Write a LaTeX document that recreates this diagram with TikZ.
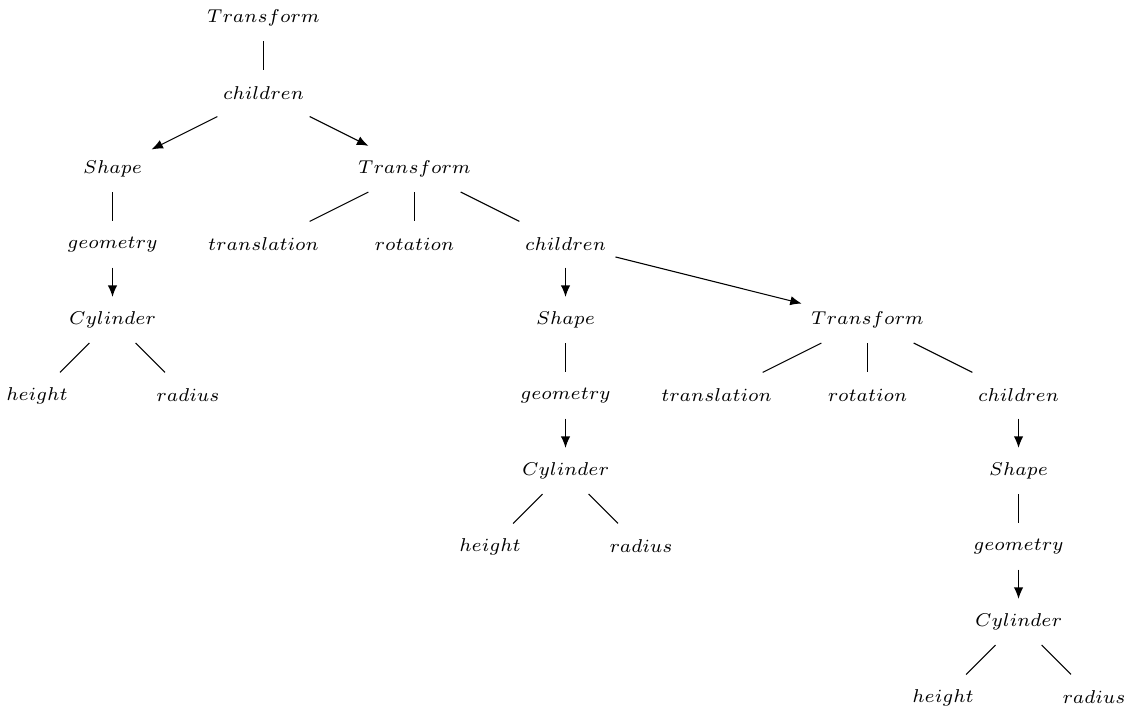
\documentclass[tikz,border=0pt]{standalone}
\usepackage{amsmath}
\usepackage{tikz}
\usetikzlibrary{arrows.meta, positioning}

\begin{document}
\begin{tikzpicture}[
    node distance=1cm and 2cm, on grid,
    every node/.style={font=\scriptsize},
    lbl/.style={inner xsep=3.4pt, inner ysep=0pt, minimum height=17pt},
    link/.style={line width=0.4pt},
    arr/.style={link, -{Latex[length=4.3pt, width=3.5pt]}},
  ]
  \useasboundingbox (-0.49,0.238) rectangle (14.397,-9.152);
  % --- top of the tree
  \node[lbl] (root) at (3,0) {$Transform$};
  \node[lbl, below=of root] (ch1) {$children$};
  \node[lbl, below left=of ch1]  (shp1) {$Shape$};
  \node[lbl, below right=of ch1] (tf2)  {$Transform$};
  % --- first shape
  \node[lbl, below=of shp1] (geo1) {$geometry$};
  \node[lbl, below=of geo1] (cyl1) {$Cylinder$};
  \node[lbl, below left=1cm and 1cm of cyl1]  (ht1) {$height$};
  \node[lbl, below right=1cm and 1cm of cyl1] (rd1) {$radius$};
  % --- second transform
  \node[lbl, below left=of tf2]  (tr2) {$translation$};
  \node[lbl, below=of tf2]       (rot2) {$rotation$};
  \node[lbl, below right=of tf2] (ch2) {$children$};
  \node[lbl, below=of ch2] (shp2) {$Shape$};
  \node[lbl, below right=1cm and 4cm of ch2] (tf3) {$Transform$};
  \node[lbl, below=of shp2] (geo2) {$geometry$};
  \node[lbl, below=of geo2] (cyl2) {$Cylinder$};
  \node[lbl, below left=1cm and 1cm of cyl2]  (ht2) {$height$};
  \node[lbl, below right=1cm and 1cm of cyl2] (rd2) {$radius$};
  % --- third transform
  \node[lbl, below left=of tf3]  (tr3) {$translation$};
  \node[lbl, below=of tf3]       (rot3) {$rotation$};
  \node[lbl, below right=of tf3] (ch3) {$children$};
  \node[lbl, below=of ch3]  (shp3) {$Shape$};
  \node[lbl, below=of shp3] (geo3) {$geometry$};
  \node[lbl, below=of geo3] (cyl3) {$Cylinder$};
  \node[lbl, below left=1cm and 1cm of cyl3]  (ht3) {$height$};
  \node[lbl, below right=1cm and 1cm of cyl3] (rd3) {$radius$};
  % --- plain edges
  \draw[link] (root) -- (ch1);
  \draw[link] (shp1) -- (geo1);
  \draw[link] (cyl1) -- (ht1);
  \draw[link] (cyl1) -- (rd1);
  \draw[link] (tf2) -- (tr2);
  \draw[link] (tf2) -- (rot2);
  \draw[link] (tf2) -- (ch2);
  \draw[link] (shp2) -- (geo2);
  \draw[link] (cyl2) -- (ht2);
  \draw[link] (cyl2) -- (rd2);
  \draw[link] (tf3) -- (tr3);
  \draw[link] (tf3) -- (rot3);
  \draw[link] (tf3) -- (ch3);
  \draw[link] (shp3) -- (geo3);
  \draw[link] (cyl3) -- (ht3);
  \draw[link] (cyl3) -- (rd3);
  % --- arrows
  \draw[arr] (ch1) -- (shp1);
  \draw[arr] (ch1) -- (tf2);
  \draw[arr] (geo1) -- (cyl1);
  \draw[arr] (ch2) -- (shp2);
  \draw[arr] (ch2) -- (tf3);
  \draw[arr] (geo2) -- (cyl2);
  \draw[arr] (ch3) -- (shp3);
  \draw[arr] (geo3) -- (cyl3);
\end{tikzpicture}
\end{document}
